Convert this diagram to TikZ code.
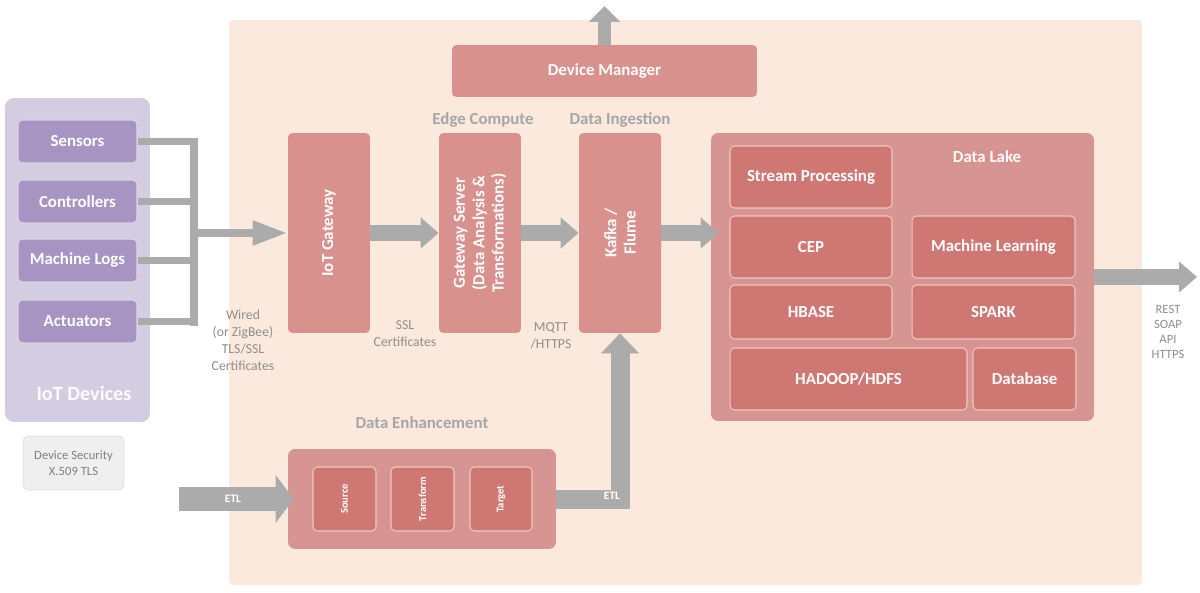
\documentclass[tikz,border=0pt]{standalone}
\usepackage{fontspec}
\setmainfont{Carlito}
\usepackage{xcolor}
\usepackage{tikz}
\usetikzlibrary{arrows.meta}

\definecolor{peach}{HTML}{FCE9DD}
\definecolor{lavender}{HTML}{D4CCE0}
\definecolor{devpurple}{HTML}{A894C2}
\definecolor{devline}{HTML}{DCD4E8}
\definecolor{salmon}{HTML}{D8918D}
\definecolor{lakefill}{HTML}{D69592}
\definecolor{lakeinner}{HTML}{CF7773}
\definecolor{innerline}{HTML}{F2C6BE}
\definecolor{arrowgray}{HTML}{ABABAB}
\definecolor{headgray}{HTML}{A6A6A6}
\definecolor{notegray}{HTML}{8E8E8E}
\definecolor{secfill}{HTML}{EFEFEF}

\tikzset{
    box/.style={fill=salmon,rounded corners=2.5pt,inner sep=0pt,text=white,
        font=\bfseries\fontsize{9.6}{11}\selectfont,align=center},
    lakebox/.style={box,fill=lakeinner,draw=innerline,line width=0.6pt},
    devbox/.style={box,fill=devpurple,draw=devline,line width=0.6pt,
        minimum width=2.38cm,minimum height=0.86cm},
    vlabel/.style={rotate=90,text=white,align=center,
        font=\bfseries\fontsize{9.6}{11}\selectfont},
    slabel/.style={vlabel,font=\bfseries\fontsize{6}{7}\selectfont},
    heading/.style={text=headgray,font=\bfseries\fontsize{9.6}{11}\selectfont},
    note/.style={text=notegray,align=center,font=\fontsize{7.8}{9.6}\selectfont},
    busline/.style={draw=arrowgray,line width=0.14cm},
    busarrow/.style={draw=arrowgray,line width=0.16cm,
        -{Triangle[width=0.46cm,length=0.7cm]}},
    fatarrow/.style={draw=arrowgray,line width=0.32cm,
        -{Triangle[width=0.6cm,length=0.36cm]}},
    etlarrow/.style={draw=arrowgray,line width=0.48cm,
        -{Triangle[width=0.94cm,length=0.36cm]}},
    etltext/.style={text=white,font=\bfseries\fontsize{6.5}{8}\selectfont}
}

\begin{document}
\begin{tikzpicture}[x=0.02cm,y=-0.02cm]
    \useasboundingbox (0,0) rectangle (1200,592);
    \node[fill=peach,rounded corners=2pt,minimum width=18.26cm,minimum height=11.3cm] (bg) at (685.5,302.5) {};

    \node[fill=lavender,rounded corners=5pt,minimum width=2.9cm,minimum height=6.48cm] (iotdev) at (77.5,260) {};
    \node[devbox] (sens) at (77.5,141.5) {Sensors};
    \node[devbox] (ctrl) at (77.5,201.5) {Controllers};
    \node[devbox] (mlog) at (77.5,260.5) {Machine Logs};
    \node[devbox] (act) at (77.5,321.5) {Actuators};
    \node[text=white!94!lavender,font=\bfseries\fontsize{11.5}{13}\selectfont] (iotlbl) at (84,393) {IoT Devices};
    \node[fill=secfill,draw=black!13,rounded corners=3pt,minimum width=2.02cm,minimum height=1.08cm,
        note,text=black!50,font=\fontsize{7.2}{9}\selectfont] (devsec) at (73.5,463) {Device Security\\X.509 TLS};

    \node[box,minimum width=1.64cm,minimum height=4cm,
        label={[vlabel]center:IoT Gateway}] (gate) at (329,233) {};
    \node[box,minimum width=1.64cm,minimum height=4cm,
        label={[vlabel]center:Gateway Server\\(Data Analysis \&\\Transformations)}] (gsrv) at (480,233) {};
    \node[box,minimum width=1.64cm,minimum height=4cm,
        label={[vlabel]center:Kafka /\\Flume}] (kafka) at (620,233) {};
    \node[heading] (edgelbl) at (483,120) {Edge Compute};
    \node[heading] (inglbl) at (620,120) {Data Ingestion};
    \node[box,minimum width=6.1cm,minimum height=1.04cm] (devmgr) at (604.5,71) {Device Manager};

    \node[box,fill=lakefill,rounded corners=4pt,minimum width=7.66cm,minimum height=5.76cm] (lake) at (902.5,277) {};
    \node[box] (lakelbl) at (987,157) {Data Lake};
    \node[lakebox,minimum width=3.24cm,minimum height=1.24cm] (stream) at (811,177) {Stream Processing};
    \node[lakebox,minimum width=3.24cm,minimum height=1.24cm] (cep) at (811,247) {CEP};
    \node[lakebox,minimum width=3.26cm,minimum height=1.24cm] (mlearn) at (993.5,247) {Machine Learning};
    \node[lakebox,minimum width=3.24cm,minimum height=1.08cm] (hbase) at (811,312) {HBASE};
    \node[lakebox,minimum width=3.26cm,minimum height=1.08cm] (spark) at (993.5,312) {SPARK};
    \node[lakebox,minimum width=4.74cm,minimum height=1.24cm] (hadoop) at (848.5,379) {HADOOP/HDFS};
    \node[lakebox,minimum width=2.06cm,minimum height=1.24cm] (dbase) at (1024.5,379) {Database};

    \node[heading] (dehlbl) at (422,423) {Data Enhancement};
    \node[box,fill=lakefill,rounded corners=4pt,minimum width=5.36cm,minimum height=2cm] (deh) at (422,499) {};
    \node[lakebox,minimum width=1.26cm,minimum height=1.28cm,
        label={[slabel]center:Source}] (src) at (344.5,499) {};
    \node[lakebox,minimum width=1.26cm,minimum height=1.28cm,
        label={[slabel]center:Transform}] (trf) at (422.5,499) {};
    \node[lakebox,minimum width=1.24cm,minimum height=1.28cm,
        label={[slabel]center:Target}] (tgt) at (501,499) {};

    \node[note] (wired) at (243,340) {Wired\\(or ZigBee)\\TLS/SSL\\Certificates};
    \node[note] (ssl) at (405,334) {SSL\\Certificates};
    \node[note] (mqtt) at (551,336) {MQTT\\/HTTPS};
    \node[note,font=\fontsize{7.2}{8.7}\selectfont] (rest) at (1168,332) {REST\\SOAP\\API\\HTTPS};

    \coordinate (bus) at (194,233);
    \coordinate (mgrout) at (604.5,6);
    \coordinate (api) at (1197,277);
    \coordinate (etlin) at (179,499);

    \foreach \d in {sens,ctrl,mlog,act}
        \draw[busline] (\d.east) -- (\d.east -| bus);
    \draw[busline,line width=0.16cm,line cap=rect] (bus |- sens.east) -- (bus |- act.east);
    \draw[busarrow] (bus) -- (gate.west);
    \draw[fatarrow] (gate.east) -- (gsrv.west);
    \draw[fatarrow] (gsrv.east) -- (kafka.west);
    \draw[fatarrow] (kafka.east) -- ([xshift=0.16cm]kafka.east -| lake.west);
    \draw[fatarrow] (lake.east) -- (api);
    \draw[fatarrow,line width=0.27cm,-{Triangle[width=0.62cm,length=0.32cm]}] (devmgr.north) -- (mgrout);
    \draw[etlarrow] (etlin) -- ([xshift=0.12cm]deh.west);
    \draw[fatarrow,line width=0.38cm,-{Triangle[width=0.74cm,length=0.4cm]}] (deh.east) -| (kafka.south);
    \node[etltext] (etlinlbl) at (233,499) {ETL};
    \node[etltext] (etloutlbl) at (612,496) {ETL};
\end{tikzpicture}
\end{document}
